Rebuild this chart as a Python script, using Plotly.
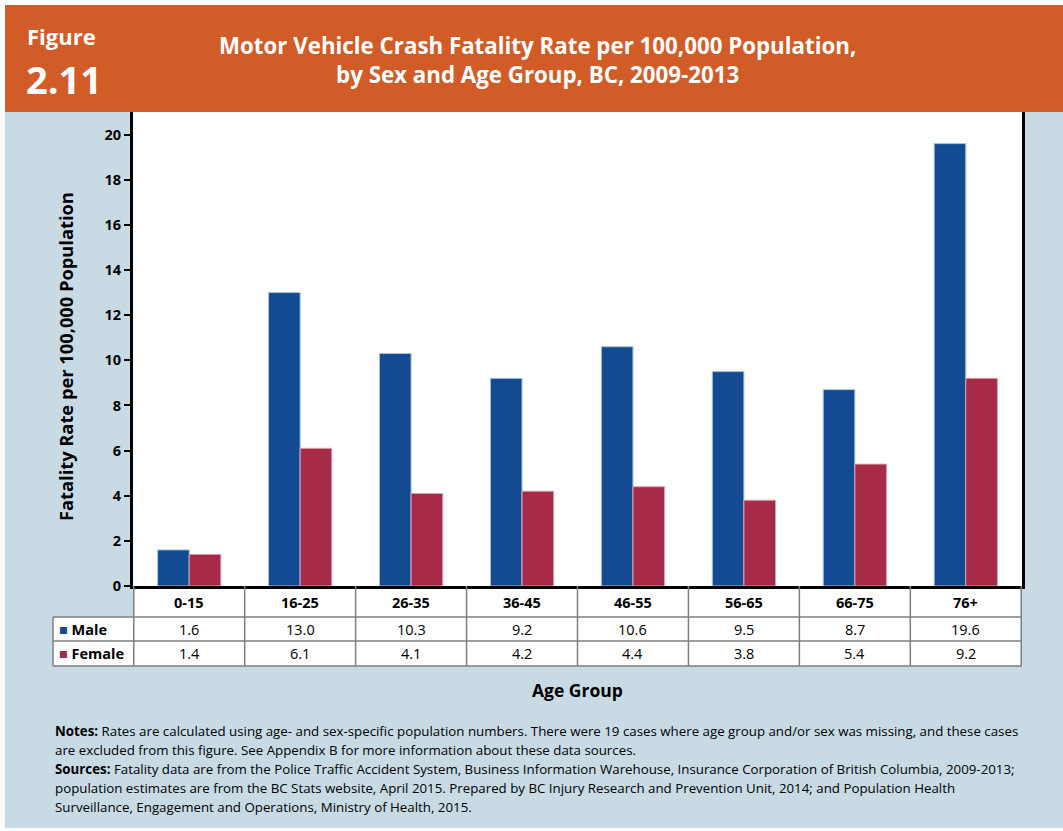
import plotly.graph_objects as go

age_groups = ["0-15", "16-25", "26-35", "36-45", "46-55", "56-65", "66-75", "76+"]
male = [1.6, 13.0, 10.3, 9.2, 10.6, 9.5, 8.7, 19.6]
female = [1.4, 6.1, 4.1, 4.2, 4.4, 3.8, 5.4, 9.2]
series_names = ["Male", "Female"]
y_ticks = [0, 2, 4, 6, 8, 10, 12, 14, 16, 18, 20]
notes_lines = [
    "<b>Notes:</b> Rates are calculated using age- and sex-specific population numbers. There were 19 cases where age group and/or sex was missing, and these cases",
    "are excluded from this figure. See Appendix B for more information about these data sources.",
    "<b>Sources:</b> Fatality data are from the Police Traffic Accident System, Business Information Warehouse, Insurance Corporation of British Columbia, 2009-2013;",
    "population estimates are from the BC Stats website, April 2015. Prepared by BC Injury Research and Prevention Unit, 2014; and Population Health",
    "Surveillance, Engagement and Operations, Ministry of Health, 2015.",
]

MALE_C = "#134b93"
FEMALE_C = "#a82a49"
ORANGE = "#d15c28"
BG = "#c8dbe5"
GRID = "#7f7f7f"
FONT = "Open Sans"

W, H = 1063, 831
L, R, T, B = 133, 1022, 112, 586


def px(x):
    return (x - L) / (R - L)


def py(y):
    return (B - y) / (B - T)


fig = go.Figure()
fig.add_trace(go.Bar(x=age_groups, y=male, name=series_names[0],
                     marker=dict(color=MALE_C, line=dict(color="#aac4dc", width=1))))
fig.add_trace(go.Bar(x=age_groups, y=female, name=series_names[1],
                     marker=dict(color=FEMALE_C, line=dict(color="#d9a3b0", width=1))))

shapes = []
shapes.append(dict(type="rect", xref="paper", yref="paper", x0=px(5), x1=px(1063), y0=py(828), y1=py(5),
                   fillcolor=BG, line=dict(width=0), layer="below"))
shapes.append(dict(type="rect", xref="paper", yref="paper", x0=px(5), x1=px(1063), y0=py(112), y1=py(5),
                   fillcolor=ORANGE, line=dict(width=0), layer="below"))
shapes.append(dict(type="rect", xref="paper", yref="paper", x0=0, x1=1, y0=0, y1=1,
                   fillcolor="white", line=dict(width=0), layer="below"))
shapes.append(dict(type="rect", xref="paper", yref="paper", x0=0, x1=1, y0=py(666), y1=0,
                   fillcolor="white", line=dict(width=0), layer="below"))
shapes.append(dict(type="rect", xref="paper", yref="paper", x0=px(53), x1=0, y0=py(666), y1=py(617),
                   fillcolor="white", line=dict(width=0), layer="below"))
for yy in [617, 641, 666]:
    shapes.append(dict(type="line", xref="paper", yref="paper", x0=px(53), x1=1, y0=py(yy), y1=py(yy),
                       line=dict(color=GRID, width=1.5)))
shapes.append(dict(type="line", xref="paper", yref="paper", x0=px(53), x1=px(53), y0=py(617), y1=py(666),
                   line=dict(color=GRID, width=1.5)))
for i in range(len(age_groups) + 1):
    shapes.append(dict(type="line", xref="x", yref="paper", x0=i - 0.5, x1=i - 0.5, y0=0, y1=py(666),
                       line=dict(color=GRID, width=1.5)))

annotations = []


def ann(x, y, text, size, color="black", xanchor="center", yanchor="middle", xref="paper", **kw):
    annotations.append(dict(x=x, y=y, xref=xref, yref="paper", text=text, showarrow=False,
                            xanchor=xanchor, yanchor=yanchor,
                            font=dict(family=FONT, size=size, color=color), **kw))


for i, g in enumerate(age_groups):
    ann(g, py(602), "<b>%s</b>" % g, 14.5, xref="x")
    ann(g, py(629), "%.1f" % male[i], 14.5, xref="x")
    ann(g, py(653.5), "%.1f" % female[i], 14.5, xref="x")
for name, col, yy in [(series_names[0], MALE_C, 629), (series_names[1], FEMALE_C, 653.5)]:
    ann(px(57), py(yy), '<span style="color:%s">■</span> <b>%s</b>' % (col, name), 14.5, xanchor="left")

ann(px(25), py(36), "<b>Figure</b>", 22, color="white", xanchor="left")
ann(px(24), py(79), "<b>2.11</b>", 38, color="white", xanchor="left")
ann(px(537), py(60), "<b>Motor Vehicle Crash Fatality Rate per 100,000 Population,<br>by Sex and Age Group, BC, 2009-2013</b>",
    22.3, color="white")
ann(px(65), py(357), "<b>Fatality Rate per 100,000 Population</b>", 18.3, textangle=-90)
ann(px(577), py(690), "<b>Age Group</b>", 17.5)
for k, line in enumerate(notes_lines):
    ann(px(53), py(731 + 19 * k), line, 13.3, xanchor="left")

fig.update_layout(
    width=W, height=H,
    margin=dict(l=L, r=W - R, t=T, b=H - B, pad=0),
    paper_bgcolor="white", plot_bgcolor="white",
    barmode="group", bargap=0.43, bargroupgap=0,
    showlegend=False,
    shapes=shapes, annotations=annotations,
    font=dict(family=FONT, color="black"),
    xaxis=dict(showticklabels=False, ticks="", showline=True, linecolor="black", linewidth=3,
               showgrid=False, zeroline=False),
    yaxis=dict(range=[0, 21], tickvals=y_ticks, showline=True, mirror=True, linecolor="black", linewidth=3,
               ticks="outside", ticklen=6, tickwidth=2, tickcolor="black", showgrid=False, zeroline=False,
               tickfont=dict(family=FONT, size=14.5, color="black", weight="bold")),
)

fig.write_html("out.html", config={"displayModeBar": False},
               post_script="document.body.style.margin='0';")
